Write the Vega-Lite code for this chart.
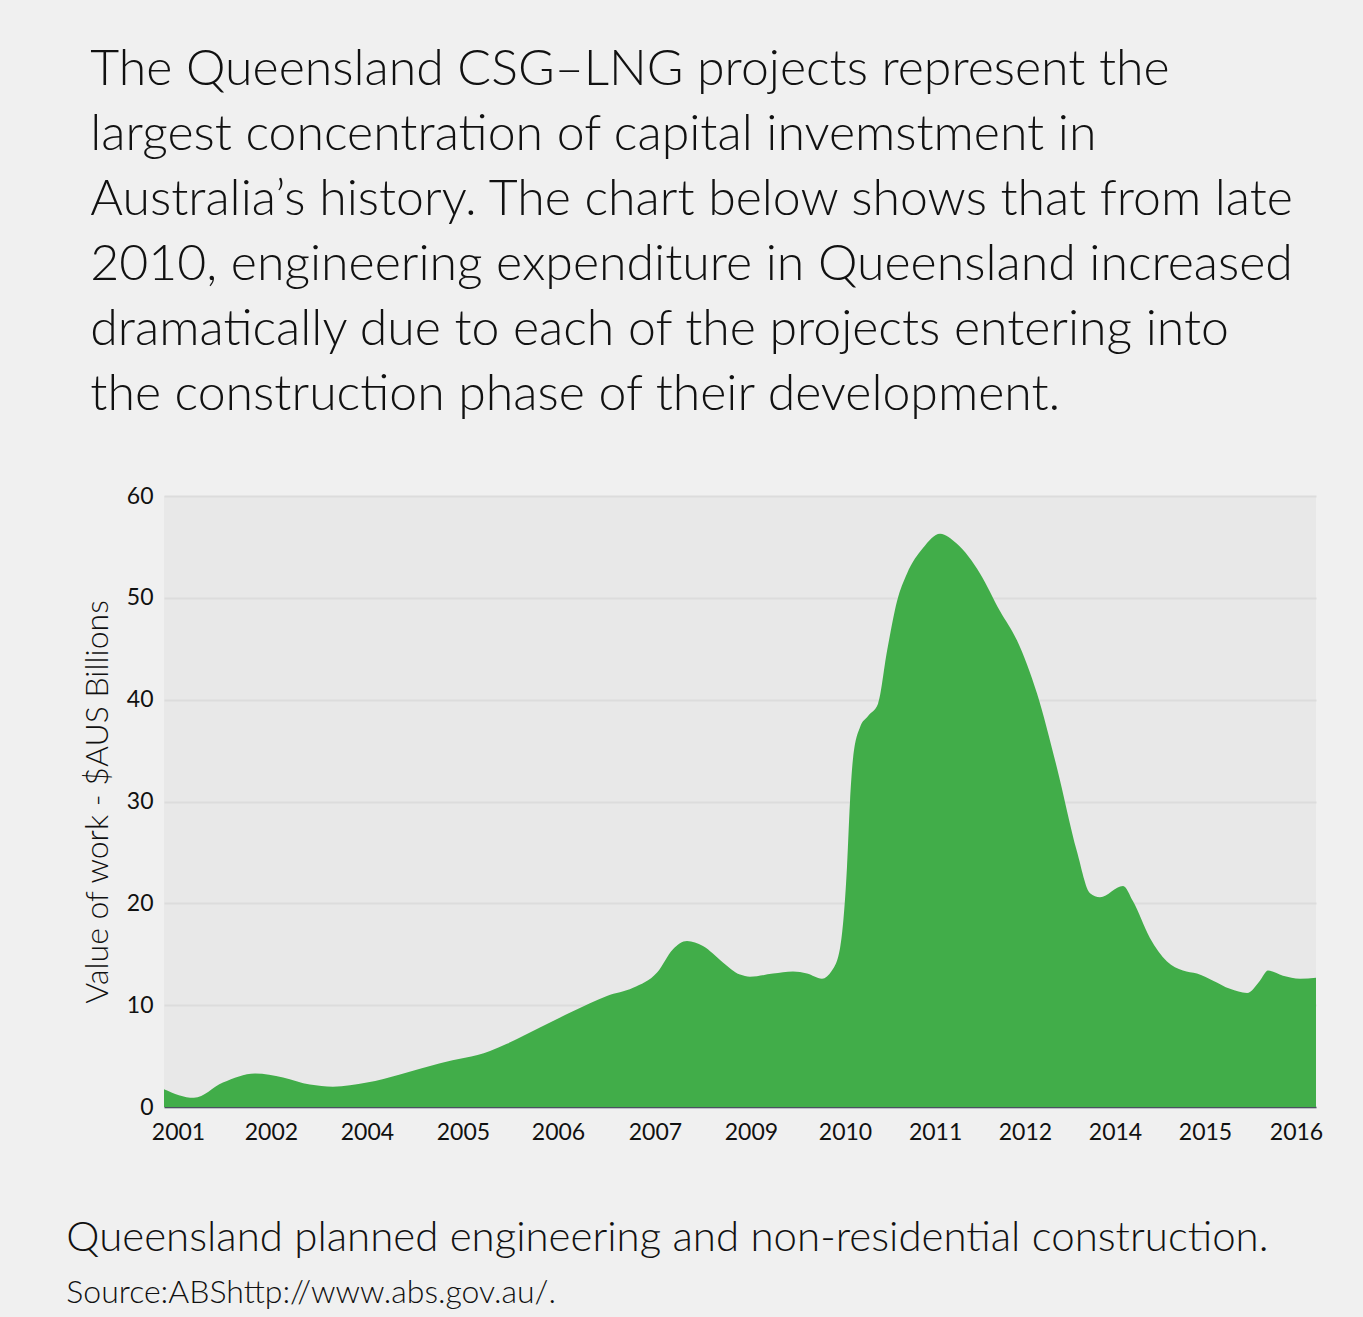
{
  "$schema": "https://vega.github.io/schema/vega-lite/v6.json",
  "background": "#f0f0f0",
  "padding": {"left": 66, "top": 45, "right": 47, "bottom": 20},
  "config": {
    "font": "Lato",
    "view": {"stroke": null, "fill": "#e8e8e8"}
  },
  "title": {
    "text": "Queensland planned engineering and non-residential construction.",
    "subtitle": "Source:ABShttp://www.abs.gov.au/.",
    "orient": "bottom",
    "anchor": "start",
    "frame": "bounds",
    "dx": -15,
    "font": "Lato",
    "fontSize": 42,
    "fontWeight": 300,
    "color": "#111111",
    "subtitleFont": "Lato",
    "subtitleFontSize": 32,
    "subtitleFontWeight": 300,
    "subtitleColor": "#111111",
    "subtitlePadding": 18,
    "offset": 74
  },
  "vconcat": [
    {
      "title": {
        "text": [
          "The Queensland CSG–LNG projects represent the",
          "largest concentration of capital invemstment in",
          "Australia’s history. The chart below shows that from late",
          "2010, engineering expenditure in Queensland increased",
          "dramatically due to each of the projects entering into",
          "the construction phase of their development."
        ],
        "anchor": "start",
        "frame": "bounds",
        "dx": 9,
        "font": "Lato",
        "fontSize": 50,
        "fontWeight": 300,
        "lineHeight": 65,
        "color": "#111111",
        "offset": 65
      },
      "width": 1152,
      "height": 611,
      "data": {
        "values": [
          {"t": 0, "v": 1.75}, {"t": 1.56, "v": 0.9}, {"t": 3.07, "v": 2.4}, {"t": 4.74, "v": 3.3},
          {"t": 6.2, "v": 2.9}, {"t": 7.6, "v": 2.2}, {"t": 8.8, "v": 2.0}, {"t": 10.57, "v": 2.4},
          {"t": 12.29, "v": 3.2}, {"t": 14.38, "v": 4.3}, {"t": 16.98, "v": 5.5}, {"t": 17.86, "v": 6.2},
          {"t": 19.58, "v": 7.8}, {"t": 21.3, "v": 9.4}, {"t": 23.07, "v": 10.9}, {"t": 24.43, "v": 11.7},
          {"t": 25.68, "v": 13.2}, {"t": 26.51, "v": 15.5}, {"t": 27.24, "v": 16.3}, {"t": 28.07, "v": 15.8},
          {"t": 29.11, "v": 14.2}, {"t": 30.0, "v": 13.0}, {"t": 30.52, "v": 12.8}, {"t": 31.72, "v": 13.1},
          {"t": 32.76, "v": 13.3}, {"t": 33.49, "v": 13.1}, {"t": 34.27, "v": 12.6}, {"t": 34.79, "v": 13.4},
          {"t": 35.21, "v": 15.6}, {"t": 35.57, "v": 23.5}, {"t": 35.73, "v": 30}, {"t": 35.89, "v": 34.3},
          {"t": 36.25, "v": 37.3}, {"t": 36.67, "v": 38.4}, {"t": 37.19, "v": 39.6}, {"t": 37.66, "v": 44.8},
          {"t": 38.18, "v": 49.7}, {"t": 38.7, "v": 52.4}, {"t": 39.53, "v": 54.9}, {"t": 40.42, "v": 56.3},
          {"t": 41.3, "v": 55.3}, {"t": 42.5, "v": 52.4}, {"t": 43.54, "v": 48.7}, {"t": 44.43, "v": 45.8},
          {"t": 45.47, "v": 40.6}, {"t": 46.51, "v": 33.3}, {"t": 47.55, "v": 25.1}, {"t": 48.23, "v": 21.0},
          {"t": 48.75, "v": 20.6}, {"t": 49.95, "v": 21.7}, {"t": 50.47, "v": 20.2}, {"t": 51.35, "v": 16.6},
          {"t": 52.24, "v": 14.3}, {"t": 53.07, "v": 13.4}, {"t": 53.8, "v": 13.1}, {"t": 54.64, "v": 12.4},
          {"t": 55.52, "v": 11.6}, {"t": 56.41, "v": 11.2}, {"t": 57.08, "v": 12.4}, {"t": 57.5, "v": 13.4},
          {"t": 58.28, "v": 12.9}, {"t": 59.17, "v": 12.6}, {"t": 60, "v": 12.7}
        ]
      },
      "mark": {"type": "area", "interpolate": "monotone", "color": "#41ad49"},
      "encoding": {
        "x": {
          "field": "t",
          "type": "quantitative",
          "scale": {"domain": [0, 60], "nice": false, "zero": false},
          "axis": {
            "title": null,
            "values": [0.73, 5.57, 10.57, 15.57, 20.52, 25.57, 30.57, 35.47, 40.16, 44.84, 49.53, 54.22, 58.96],
            "labelExpr": "['2001','2002','2004','2005','2006','2007','2009','2010','2011','2012','2014','2015','2016'][indexof([0.73, 5.57, 10.57, 15.57, 20.52, 25.57, 30.57, 35.47, 40.16, 44.84, 49.53, 54.22, 58.96], datum.value)]",
            "grid": false,
            "ticks": false,
            "domain": true,
            "domainColor": "#4a5260",
            "domainWidth": 1.5,
            "labelFont": "Lato",
            "labelFontSize": 23,
            "labelColor": "#111111",
            "labelPadding": 14,
            "labelOverlap": false,
            "labelFlush": false
          }
        },
        "y": {
          "field": "v",
          "type": "quantitative",
          "scale": {"domain": [0, 60], "nice": false},
          "axis": {
            "title": "Value of work - $AUS Billions",
            "titleFont": "Lato",
            "titleFontSize": 32,
            "titleFontWeight": 300,
            "titleColor": "#111111",
            "titlePadding": 12,
            "values": [0, 10, 20, 30, 40, 50, 60],
            "grid": true,
            "gridColor": "#dcdcdc",
            "gridWidth": 2,
            "ticks": false,
            "domain": false,
            "labelFont": "Lato",
            "labelFontSize": 23,
            "labelColor": "#111111",
            "labelPadding": 11
          }
        }
      }
    }
  ]
}
